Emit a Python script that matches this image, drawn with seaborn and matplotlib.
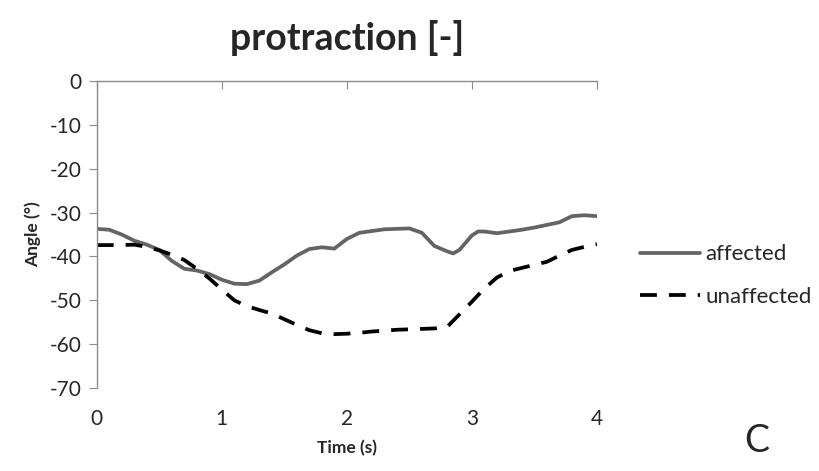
import numpy as np
import pandas as pd
import matplotlib
matplotlib.use('Agg')
import matplotlib.pyplot as plt
import seaborn as sns

# time (s) and angle values
time_aff = [0, 0.1, 0.2, 0.3, 0.4, 0.5, 0.6, 0.7, 0.8, 0.9, 1.0, 1.1, 1.2, 1.3,
            1.4, 1.5, 1.6, 1.7, 1.8, 1.9, 2.0, 2.1, 2.2, 2.3, 2.4, 2.5, 2.6,
            2.7, 2.8, 2.85, 2.9, 3.0, 3.05, 3.1, 3.2, 3.3, 3.4, 3.5, 3.6, 3.7,
            3.8, 3.9, 4.0]
affected = [-33.7, -33.9, -35.0, -36.4, -37.3, -38.5, -41.0, -42.8, -43.2,
            -44.0, -45.3, -46.2, -46.3, -45.5, -43.6, -41.8, -39.8, -38.3,
            -37.9, -38.2, -36.0, -34.6, -34.2, -33.8, -33.7, -33.6, -34.6,
            -37.6, -38.8, -39.3, -38.5, -35.2, -34.3, -34.3, -34.7, -34.3,
            -33.9, -33.4, -32.8, -32.2, -30.8, -30.6, -30.8]

time_unaff = [0, 0.1, 0.2, 0.3, 0.4, 0.5, 0.6, 0.7, 0.8, 0.9, 1.0, 1.1, 1.2,
              1.3, 1.4, 1.5, 1.6, 1.7, 1.8, 1.9, 2.0, 2.1, 2.2, 2.3, 2.4, 2.5,
              2.6, 2.7, 2.8, 2.9, 3.0, 3.1, 3.2, 3.3, 3.4, 3.5, 3.6, 3.7, 3.8,
              3.9, 4.0]
unaffected = [-37.4, -37.4, -37.4, -37.3, -37.8, -38.6, -39.6, -40.8, -42.8,
              -45.0, -47.5, -50.0, -51.3, -52.2, -53.0, -54.3, -55.6, -56.8,
              -57.5, -57.7, -57.6, -57.4, -57.1, -56.9, -56.7, -56.6, -56.5,
              -56.4, -56.1, -53.2, -50.3, -47.3, -44.8, -43.3, -42.6, -41.9,
              -41.2, -39.8, -38.5, -37.8, -37.2]

x_ticks = [0, 1, 2, 3, 4]
y_ticks = [0, -10, -20, -30, -40, -50, -60, -70]

sns.set_style("white")
plt.rcParams['font.family'] = ['Lato', 'DejaVu Sans']
plt.rcParams['axes.unicode_minus'] = False

fig = plt.figure(figsize=(8.2, 4.71), dpi=100)
ax = fig.add_axes([0.118, 0.176, 0.61, 0.652])

sns.lineplot(x=time_aff, y=affected, ax=ax, color='#646464', linewidth=2.7,
             label='affected')
sns.lineplot(x=time_unaff, y=unaffected, ax=ax, color='black', linewidth=2.7,
             linestyle=(0, (4.5, 3.2)), label='unaffected')

ax.set_xlim(0, 4)
ax.set_ylim(-70, 0)
ax.set_xticks(x_ticks)
ax.set_yticks(y_ticks)

axis_grey = '#8c8c8c'
for s in ['bottom', 'right']:
    ax.spines[s].set_visible(False)
for s in ['top', 'left']:
    ax.spines[s].set_visible(True)
    ax.spines[s].set_color(axis_grey)
    ax.spines[s].set_linewidth(1.0)

ax.tick_params(axis='x', top=True, bottom=False, labeltop=False,
               labelbottom=True, direction='in', length=6, color=axis_grey,
               labelsize=15, pad=15)
ax.tick_params(axis='y', left=True, direction='out', length=6,
               color=axis_grey, labelsize=15, pad=5)

ax.set_xlabel('Time (s)', fontsize=12.5, fontweight='bold', labelpad=8)
ax.set_ylabel('Angle (°)', fontsize=12.5, fontweight='bold', labelpad=6)
ax.set_title('protraction [-]', fontsize=27, fontweight='bold', pad=22)

ax.legend(loc='center left', bbox_to_anchor=(0.78, 0.415),
          bbox_transform=fig.transFigure, frameon=False, fontsize=16,
          handlelength=2.7, handletextpad=0.25, labelspacing=1.0,
          borderpad=0, borderaxespad=0)

fig.text(0.908, 0.04, 'C', fontsize=27)

fig.savefig('out.png', dpi=100)
